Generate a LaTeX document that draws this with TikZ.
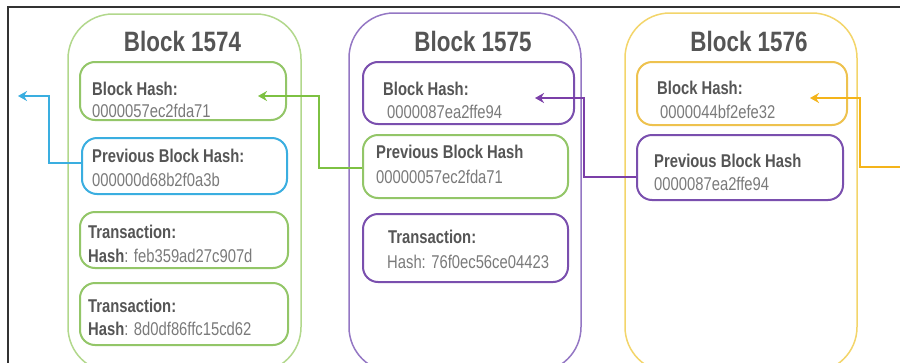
\documentclass[tikz,border=0pt]{standalone}
\usepackage{fontspec}
\setmainfont{Liberation Sans}[FakeStretch=0.8]
\usetikzlibrary{arrows.meta,calc}
\definecolor{frame}{HTML}{333333}
\definecolor{gOut}{HTML}{B2D88C}
\definecolor{gIn}{HTML}{93C668}
\definecolor{gArr}{HTML}{7DC142}
\definecolor{pOut}{HTML}{9477C4}
\definecolor{pIn}{HTML}{7A4FAE}
\definecolor{pArr}{HTML}{7B3FA8}
\definecolor{yOut}{HTML}{F3D56A}
\definecolor{yIn}{HTML}{EEC24E}
\definecolor{yArr}{HTML}{F4B41A}
\definecolor{bIn}{HTML}{3AAEE0}
\definecolor{txtB}{HTML}{555555}
\definecolor{txtR}{HTML}{7A7A7A}
\tikzset{
  blockbox/.style={draw, line width=1.5pt, rounded corners=45pt},
  innerbox/.style={draw, line width=2pt, rounded corners=15pt, inner sep=0pt},
  title/.style={font=\fontsize{28}{30}\selectfont\bfseries, text=txtB},
  lbl/.style={anchor=base west, inner sep=0pt, font=\fontsize{18.5}{20}\selectfont\bfseries, text=txtB},
  val/.style={anchor=base west, inner sep=0pt, font=\fontsize{18.5}{20}\selectfont, text=txtR},
  link/.style={line width=2.5pt, -{Stealth[length=9pt,width=10pt]}}
}
\begin{document}
\begin{tikzpicture}[x=1pt,y=-1pt]
\path[use as bounding box, clip] (0,0) rectangle (900,362);
\fill[white] (0,0) rectangle (900,362);
% outer frame
\draw[frame, line width=1.5pt] (8,380) -- (8,7) -- (920,7);
% blocks
\draw[blockbox, gOut] (68,14) rectangle (301,372);
\draw[blockbox, pOut] (349,13) rectangle (581,372);
\draw[blockbox, yOut] (625,13) rectangle (857,372);
% titles
\node[title] (t74) at (182.5,41) {Block 1574};
\node[title] (t75) at (473,41) {Block 1575};
\node[title] (t76) at (749,41) {Block 1576};
% block 1574 inner boxes
\node[innerbox, gIn, minimum width=206pt, minimum height=58pt] (h74) at (183,91) {};
\node[innerbox, bIn, minimum width=205pt, minimum height=56pt] (p74) at (184.5,166) {};
\node[innerbox, gIn, minimum width=208pt, minimum height=56pt] (x74a) at (184,240) {};
\node[innerbox, gIn, minimum width=208pt, minimum height=62pt] (x74b) at (184,314) {};
% block 1575 inner boxes
\node[innerbox, pIn, minimum width=211pt, minimum height=62pt] (h75) at (468.5,93) {};
\node[innerbox, gIn, minimum width=205pt, minimum height=63pt] (p75) at (465.5,166.5) {};
\node[innerbox, pIn, minimum width=205pt, minimum height=68pt] (x75) at (465.5,248) {};
% block 1576 inner boxes
\node[innerbox, yIn, minimum width=210pt, minimum height=63pt] (h76) at (742,93.5) {};
\node[innerbox, pIn, minimum width=206pt, minimum height=65pt] (p76) at (740,167.5) {};
% texts 1574
\node[lbl] (h74l) at (92,95) {Block Hash:};
\node[val] (h74v) at (92,117) {0000057ec2fda71};
\node[lbl] (p74l) at (92,162) {Previous Block Hash:};
\node[val] (p74v) at (92,186) {000000d68b2f0a3b};
\node[lbl] (x74al) at (88,238) {Transaction:};
\node[val] (x74av) at (88,262) {\textcolor{txtB}{\bfseries Hash}: feb359ad27c907d};
\node[lbl] (x74bl) at (88,312) {Transaction:};
\node[val] (x74bv) at (88,335) {\textcolor{txtB}{\bfseries Hash}: 8d0df86ffc15cd62};
% texts 1575
\node[lbl] (h75l) at (383,95) {Block Hash:};
\node[val] (h75v) at (387,118) {0000087ea2ffe94};
\node[lbl] (p75l) at (376,158) {Previous Block Hash};
\node[val] (p75v) at (376,183) {00000057ec2fda71};
\node[lbl] (x75l) at (388,243) {Transaction:};
\node[val] (x75v) at (387,268) {Hash: 76f0ec56ce04423};
% texts 1576
\node[lbl] (h76l) at (657,94) {Block Hash:};
\node[val] (h76v) at (660,118) {0000044bf2efe32};
\node[lbl] (p76l) at (654,167) {Previous Block Hash};
\node[val] (p76v) at (654,190) {0000087ea2ffe94};
% arrow endpoints
\coordinate (btip) at (18,96);
\coordinate (gtip) at (258,96);
\coordinate (ptip) at (535,98);
\coordinate (ytip) at (810,98);
\coordinate (yin) at (905,167);
% connectors
\draw[link, bIn] ($(p74.west)+(0,-3)$) -- ++(-32,0) |- (btip);
\draw[link, gArr] ($(p75.west)+(0,1.5)$) -- ++(-43,0) |- (gtip);
\draw[link, pArr] ($(p76.west)+(0,9.5)$) -- ++(-52,0) |- (ptip);
\draw[link, yArr] (yin) -- ++(-45,0) |- (ytip);
\end{tikzpicture}
\end{document}
